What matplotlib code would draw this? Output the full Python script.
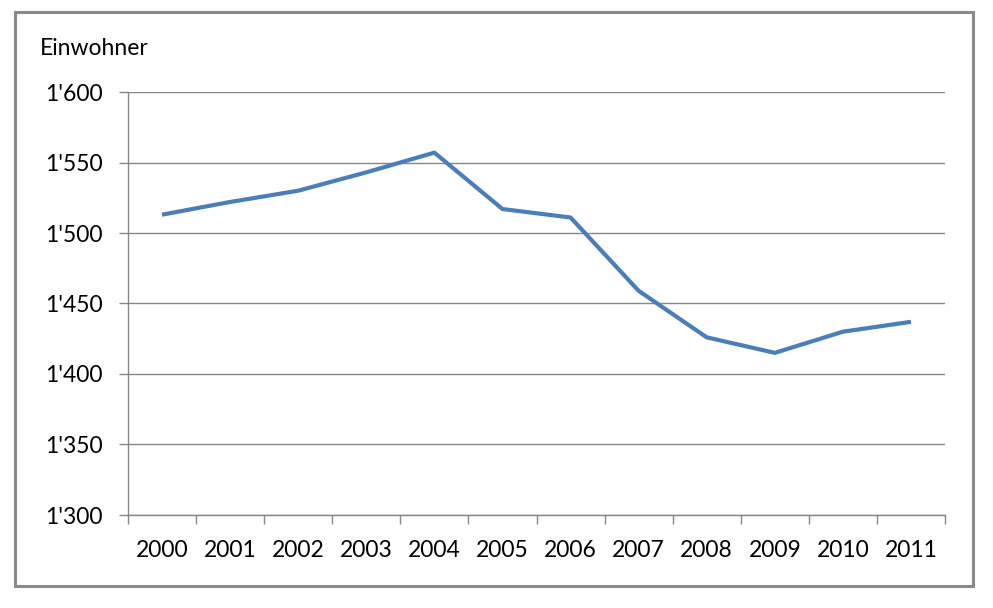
import matplotlib
matplotlib.use("Agg")
import matplotlib.pyplot as plt
from matplotlib.ticker import FuncFormatter, FixedLocator
from matplotlib.patches import Rectangle

years = ["2000", "2001", "2002", "2003", "2004", "2005", "2006", "2007", "2008", "2009", "2010", "2011"]
einwohner = [1513, 1522, 1530, 1543, 1557, 1517, 1511, 1459, 1426, 1415, 1430, 1437]
y_ticks = [1300, 1350, 1400, 1450, 1500, 1550, 1600]
y_label = "Einwohner"

W, H = 993, 608
fig = plt.figure(figsize=(W / 100, H / 100), dpi=100)
plt.rcParams['font.family'] = ['Lato', 'DejaVu Sans']

ax = fig.add_axes([128 / W, 1 - 515 / H, (945 - 128) / W, (515 - 92) / H])
x = list(range(len(years)))
ax.plot(x, einwohner, color='#4A7EBB', lw=3.0, solid_joinstyle='round', solid_capstyle='butt', zorder=3)

ax.set_xlim(-0.5, len(years) - 0.5)
ax.set_ylim(y_ticks[0], y_ticks[-1])
ax.set_yticks(y_ticks)
ax.yaxis.set_major_formatter(FuncFormatter(lambda v, p: f"{int(v):,}".replace(",", "'")))
ax.set_xticks(x)
ax.set_xticklabels(years)
ax.xaxis.set_minor_locator(FixedLocator([i - 0.5 for i in range(len(years) + 1)]))

gray = '#868686'
ax.grid(axis='y', color=gray, lw=1.0, zorder=1)
for s in ['top', 'right']:
    ax.spines[s].set_visible(False)
for s in ['left', 'bottom']:
    ax.spines[s].set_color(gray)
    ax.spines[s].set_linewidth(1.0)

fs = 16.5
ax.tick_params(axis='y', which='major', length=6.5, width=1, color=gray, pad=12, labelsize=fs, labelcolor='#000000')
ax.tick_params(axis='x', which='major', length=0, pad=18, labelsize=fs, labelcolor='#000000')
ax.tick_params(axis='x', which='minor', length=6.5, width=1, color=gray, direction='out')

fig.text(40 / W, 1 - 55 / H, y_label, fontsize=16.5, va='baseline', ha='left', color='#000000')

fig.patches.append(Rectangle((15 / W, 1 - 586 / H), (973 - 15) / W, (586 - 12) / H,
                             transform=fig.transFigure, fill=False, edgecolor='#8a8a8a', lw=2.2))

fig.savefig("out.png", dpi=100)
